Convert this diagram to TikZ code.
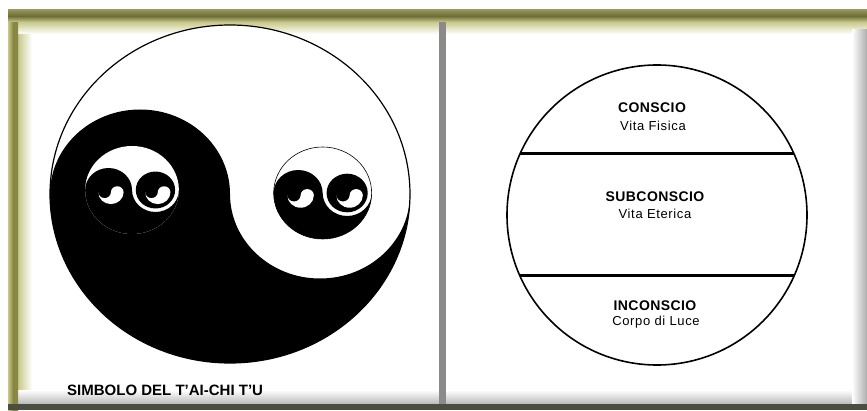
\documentclass[tikz,border=0pt]{standalone}
\usepackage{fontspec}
\setmainfont{Liberation Sans}
\definecolor{frameolive}{RGB}{136,136,68}
\definecolor{framelight}{RGB}{200,200,140}
\definecolor{framedark}{RGB}{74,78,64}
\definecolor{framegray}{RGB}{138,138,138}
\tikzset{
  layerhead/.style={inner sep=0pt, font=\fontsize{14}{15}\selectfont\bfseries\addfontfeature{LetterSpace=3}},
  layersub/.style={inner sep=0pt, font=\fontsize{13}{14}\selectfont\addfontfeature{LetterSpace=5}},
  caption/.style={inner sep=0pt, anchor=base west, font=\fontsize{15}{16}\selectfont\bfseries}
}
% white half of a tiny taiji, used as the comma in the dots
\newcommand{\tjcomma}[3]{%
  \fill[white] ({#1-#3},#2) arc[start angle=180, end angle=360, radius=#3]
    arc[start angle=0, end angle=180, radius=#3/2]
    arc[start angle=0, end angle=-180, radius=#3/2] -- cycle;}
% small taiji used as an eye
\newcommand{\minitaiji}[3]{%
  \begin{scope}[shift={(#1,#2)}]
    \fill[white] (0,0) circle[radius=#3];
    \fill[black] ({-#3},0) arc[start angle=180, end angle=0, radius=#3/2]
      arc[start angle=180, end angle=360, radius=#3/2]
      arc[start angle=0, end angle=-180, radius=#3] -- cycle;
    \fill[black] ({-#3/2},0) circle[radius=0.42*#3];
    \fill[black] ({#3/2},0) circle[radius=0.42*#3];
    \tjcomma{-0.45*#3}{-0.05*#3}{0.27*#3}
    \tjcomma{0.55*#3}{-0.05*#3}{0.27*#3}
  \end{scope}}
\begin{document}
\begin{tikzpicture}[x=1pt, y=1pt]
  \useasboundingbox (0,0) rectangle (867,410);
  % frame
  \fill[white] (8,0) rectangle (867,400);
  \shade[left color=framelight, right color=white] (18,18) rectangle (32,388);
  \shade[top color=framelight, bottom color=white] (18,376) rectangle (867,388);
  \shade[top color=white, bottom color=gray!55] (18,6) rectangle (867,20);
  \shade[left color=white, right color=gray!65] (852,6) rectangle (867,380);
  \shade[left color=framelight, right color=frameolive, middle color=frameolive] (8,0) rectangle (18,400);
  \shade[top color=frameolive!90, bottom color=framelight, middle color=frameolive!80!black] (8,388) rectangle (867,400);
  \fill[framedark] (8,0) rectangle (867,6);
  \fill[framegray] (439,6) rectangle (446,388);

  % taiji
  \begin{scope}[shift={(230,216)}, xscale=1.065]
    \fill[white] (0,0) circle[radius=169];
    \fill[black] (-169,0) arc[start angle=180, end angle=0, radius=84.5]
      arc[start angle=180, end angle=360, radius=84.5]
      arc[start angle=0, end angle=-180, radius=169] -- cycle;
    \draw[line width=1.2pt] (0,0) circle[radius=169];
    \minitaiji{-92}{4}{44}
    \minitaiji{87}{1}{46}
    \draw[line width=0.6pt] (87,1) circle[radius=46];
  \end{scope}
  \node[caption] (titolo) at (67,15) {SIMBOLO DEL T’AI-CHI T’U};

  % livelli
  \coordinate (ctr) at (657,195);
  \draw[line width=1.6pt] (ctr) circle[radius=150];
  \coordinate (a1) at ([shift={(ctr)}]155.6:150);
  \coordinate (a2) at ([shift={(ctr)}]24.4:150);
  \coordinate (b1) at ([shift={(ctr)}]203.6:150);
  \coordinate (b2) at ([shift={(ctr)}]-23.6:150);
  \draw[line width=3pt] (a1) -- (a2);
  \draw[line width=3pt] (b1) -- (b2);
  \node[layerhead] (conscio) at (652,302) {CONSCIO};
  \node[layersub] (fisica) at (653,284) {Vita Fisica};
  \node[layerhead] (subconscio) at (655,213) {SUBCONSCIO};
  \node[layersub] (eterica) at (655,196) {Vita Eterica};
  \node[layerhead] (inconscio) at (655,104) {INCONSCIO};
  \node[layersub] (luce) at (656,88) {Corpo di Luce};
\end{tikzpicture}
\end{document}
